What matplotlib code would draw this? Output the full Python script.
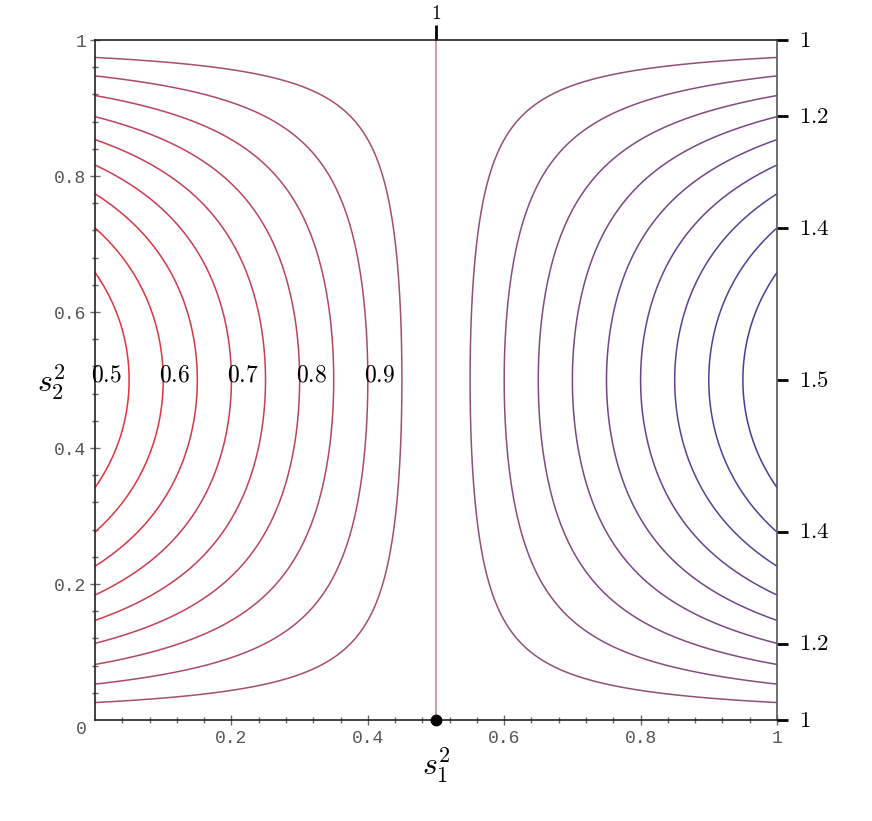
import numpy as np
import matplotlib
matplotlib.use("Agg")
import matplotlib.pyplot as plt
from matplotlib.colors import LinearSegmentedColormap
from matplotlib.transforms import blended_transform_factory

plt.rcParams['mathtext.fontset'] = 'cm'

# ---- data ----
levels = [0.55, 0.60, 0.65, 0.70, 0.75, 0.80, 0.85, 0.90, 0.95, 1.00,
          1.05, 1.10, 1.15, 1.20, 1.25, 1.30, 1.35, 1.40, 1.45]
label_x = [0.0, 0.1, 0.2, 0.3, 0.4]
label_text = ["0.5", "0.6", "0.7", "0.8", "0.9"]
right_tick_y = [1.0, 0.888, 0.7235, 0.5, 0.2765, 0.112, 0.0]
right_tick_labels = ["1", "1.2", "1.4", "1.5", "1.4", "1.2", "1"]
top_tick_x = [0.5]
top_tick_labels = ["1"]
axis_ticks = [0.2, 0.4, 0.6, 0.8, 1.0]
axis_tick_labels = ["0.2", "0.4", "0.6", "0.8", "1"]
dot_point = (0.5, 0.0)

# surface: f(s1^2, s2^2) = 1 + (2 s1^2 - 1) * 2 s2^2 (1 - s2^2)
def surface(x, y):
    return 1 + (2 * x - 1) * 2 * y * (1 - y)

xs = np.linspace(0, 1, 600)
ys = np.linspace(1e-7, 1 - 1e-7, 601)
X, Y = np.meshgrid(xs, ys)
Z = surface(X, Y)

cmap = LinearSegmentedColormap.from_list(
    "mp", [(0.0, "#e8303a"), (0.5, "#9c5272"), (1.0, "#4a3a9e")])

fig = plt.figure(figsize=(8.72, 8.21), dpi=100)
ax = fig.add_axes([95 / 872, 101 / 821, 682 / 872, 680 / 821])
ax.set_xlim(0, 1)
ax.set_ylim(0, 1)

norm = plt.Normalize(min(levels), max(levels))
colors = [cmap(norm(l)) for l in levels]
mid = levels.index(1.00)
colors[mid] = "#c27a9a"
ax.contour(X, Y, Z, levels=levels, colors=colors, linewidths=1.1)

# contour value labels
for lx, lt in zip(label_x, label_text):
    ax.text(lx - 0.006, 0.4985, "$" + lt + "$", ha="left", va="baseline",
            fontsize=17, color="black")

# dot
ax.plot([dot_point[0]], [dot_point[1]], "o", color="black", markersize=7.5,
        clip_on=False, zorder=5)

# spines
for s in ["left", "bottom"]:
    ax.spines[s].set_color("#222222")
    ax.spines[s].set_linewidth(1.2)
ax.spines["top"].set_color("#222222")
ax.spines["top"].set_linewidth(1.2)
ax.spines["right"].set_color("#555555")
ax.spines["right"].set_linewidth(1.2)

mono = "Liberation Mono"
ax.set_xticks(axis_ticks)
ax.set_xticklabels(axis_tick_labels, fontfamily=mono, fontsize=13, color="#555555")
ax.set_yticks(axis_ticks)
ax.set_yticklabels(axis_tick_labels, fontfamily=mono, fontsize=13, color="#555555")
ax.set_xticks(np.arange(0.04, 1.0, 0.04), minor=True)
ax.set_yticks(np.arange(0.04, 1.0, 0.04), minor=True)
ax.tick_params(axis="both", which="major", direction="inout", length=7,
               width=1, color="#666666", pad=3)
ax.tick_params(axis="both", which="minor", direction="inout", length=4.5,
               width=1, color="#666666")
ax.tick_params(axis="x", which="major", pad=4)
ax.tick_params(axis="y", which="major", pad=3)
ax.tick_params(top=False, right=False, which="both")

# origin label
ax.annotate("0", xy=(0, 0), xytext=(-10, -7), textcoords="offset points",
            ha="center", va="center", fontfamily=mono, fontsize=13,
            color="#555555", annotation_clip=False)

# right axis ticks and labels
trR = blended_transform_factory(ax.transAxes, ax.transData)
for ty, tl in zip(right_tick_y, right_tick_labels):
    ax.plot([1.0, 1.0 + 11 / 682], [ty, ty], color="black", lw=2,
            transform=trR, clip_on=False, solid_capstyle="butt")
    ax.annotate("$" + tl + "$", xy=(1.0, ty), xycoords=trR, xytext=(16, 0),
                textcoords="offset points", ha="left", va="center",
                fontsize=16.5, color="black", annotation_clip=False)

# top axis ticks and labels
trT = blended_transform_factory(ax.transData, ax.transAxes)
for tx, tl in zip(top_tick_x, top_tick_labels):
    ax.plot([tx, tx], [1.0, 1.0 + 15 / 680], color="black", lw=2,
            transform=trT, clip_on=False, solid_capstyle="butt")
    ax.annotate("$" + tl + "$", xy=(tx, 1.0), xycoords=trT, xytext=(0, 12),
                textcoords="offset points", ha="center", va="bottom",
                fontsize=14, color="black", annotation_clip=False)

# axis labels
ax.text(0.5, -0.066, "$s_1^2$", transform=ax.transAxes, ha="center",
        va="center", fontsize=23)
ax.text(-0.064, 0.497, "$s_2^2$", transform=ax.transAxes, ha="center",
        va="center", fontsize=23)

fig.savefig("out.png", dpi=100)
